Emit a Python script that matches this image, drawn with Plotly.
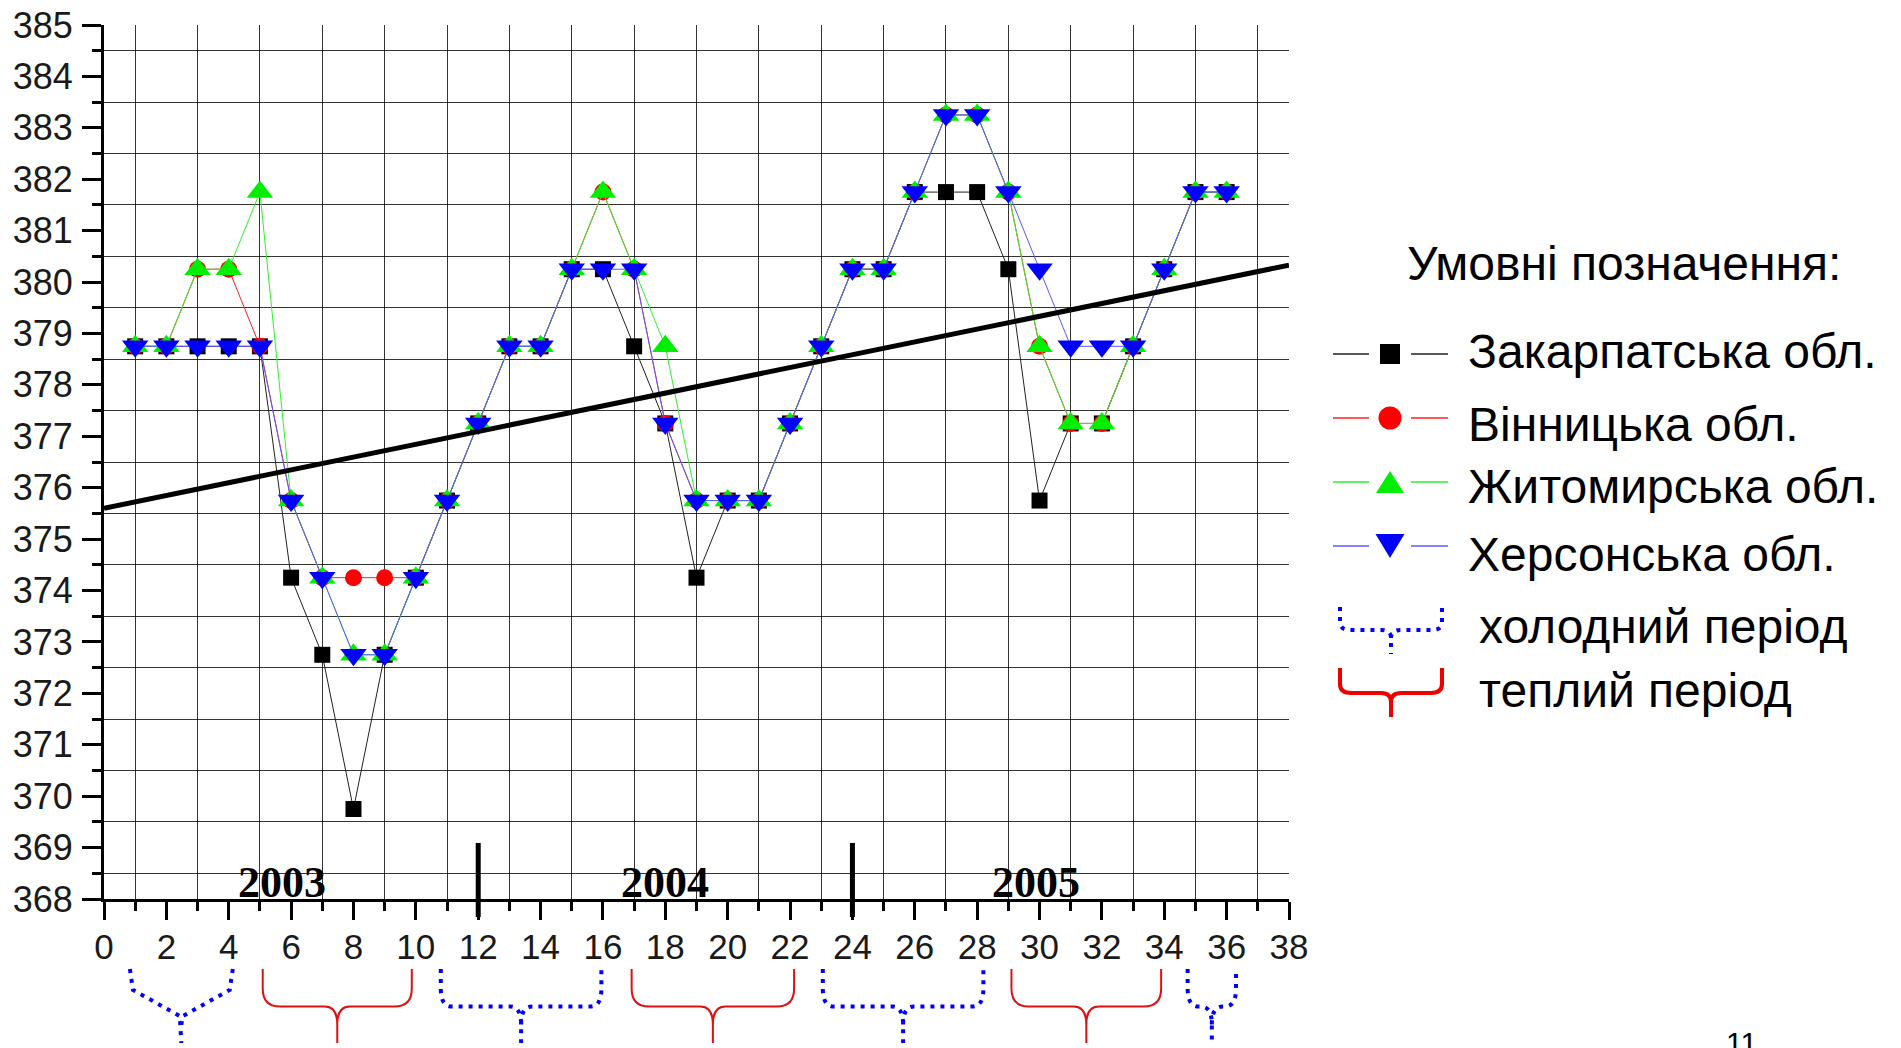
import plotly.graph_objects as go

# ---- data -------------------------------------------------------------
month = list(range(1, 37))

zakarpatska = [378.75, 378.75, 378.75, 378.75, 378.75, 374.25, 372.75, 369.75, 372.75, 374.25,
               375.75, 377.25, 378.75, 378.75, 380.25, 380.25, 378.75, 377.25, 374.25, 375.75,
               375.75, 377.25, 378.75, 380.25, 380.25, 381.75, 381.75, 381.75, 380.25, 375.75,
               377.25, 377.25, 378.75, 380.25, 381.75, 381.75]

vinnytska = [378.75, 378.75, 380.25, 380.25, 378.75, 375.75, 374.25, 374.25, 374.25, 374.25,
             375.75, 377.25, 378.75, 378.75, 380.25, 381.75, 380.25, 377.25, 375.75, 375.75,
             375.75, 377.25, 378.75, 380.25, 380.25, 381.75, 383.25, 383.25, 381.75, 378.75,
             377.25, 377.25, 378.75, 380.25, 381.75, 381.75]

zhytomyrska = [378.75, 378.75, 380.25, 380.25, 381.75, 375.75, 374.25, 372.75, 372.75, 374.25,
               375.75, 377.25, 378.75, 378.75, 380.25, 381.75, 380.25, 378.75, 375.75, 375.75,
               375.75, 377.25, 378.75, 380.25, 380.25, 381.75, 383.25, 383.25, 381.75, 378.75,
               377.25, 377.25, 378.75, 380.25, 381.75, 381.75]

khersonska = [378.75, 378.75, 378.75, 378.75, 378.75, 375.75, 374.25, 372.75, 372.75, 374.25,
              375.75, 377.25, 378.75, 378.75, 380.25, 380.25, 380.25, 377.25, 375.75, 375.75,
              375.75, 377.25, 378.75, 380.25, 380.25, 381.75, 383.25, 383.25, 381.75, 380.25,
              378.75, 378.75, 378.75, 380.25, 381.75, 381.75]

trend_x = [0, 38]
trend_y = [375.6, 380.33]

series_names = ["Закарпатська обл.", "Вінницька обл.", "Житомирська обл.", "Херсонська обл."]

years = ["2003", "2004", "2005"]
year_label_x = [5.7, 18.0, 29.9]
year_breaks = [12, 24]

# seasonal periods along the month axis (start, end)
cold_periods = [(0.83, 4.13), (10.8, 15.95), (23.05, 28.2), (34.75, 36.3)]
warm_periods = [(5.09, 9.87), (16.92, 22.13), (29.1, 33.9)]

legend_title = "Умовні позначення:"
cold_label = "холодний період"
warm_label = "теплий період"
page_number = "11"

# ---- page geometry ------------------------------------------------------
W, H = 1901, 1048
ML, MR, MT, MB = 104, 612, 25, 149
PW = W - ML - MR
PH = H - MT - MB
X_RANGE = [0, 38]
Y_RANGE = [368, 385]


def fx(px):
    """page pixel column -> paper x"""
    return (px - ML) / PW


def fy(py):
    """page pixel row -> paper y"""
    return (H - MB - py) / PH


def ydata_to_paper(v):
    return (v - Y_RANGE[0]) / (Y_RANGE[1] - Y_RANGE[0])


def f(v):
    return f"{v:.5f}"


def brace_path(x0, x1, y_top, y_mid, y_tip, cx, cy, cxc, cyc):
    """curly brace opening upward with a pointed tip downward (paper y grows up)."""
    xc = (x0 + x1) / 2
    return (
        f"M{f(x0)},{f(y_top)} L{f(x0)},{f(y_mid + cy)} Q{f(x0)},{f(y_mid)} {f(x0 + cx)},{f(y_mid)} "
        f"L{f(xc - cxc)},{f(y_mid)} Q{f(xc)},{f(y_mid)} {f(xc)},{f(y_mid - cyc)} L{f(xc)},{f(y_tip)} "
        f"M{f(xc)},{f(y_mid - cyc)} Q{f(xc)},{f(y_mid)} {f(xc + cxc)},{f(y_mid)} "
        f"L{f(x1 - cx)},{f(y_mid)} Q{f(x1)},{f(y_mid)} {f(x1)},{f(y_mid + cy)} L{f(x1)},{f(y_top)}"
    )


def v_brace_path(x0, x1, y_top, y_knee, y_mid, y_tip):
    xc = (x0 + x1) / 2
    return (
        f"M{f(x0)},{f(y_top)} L{f(x0 + 0.1)},{f(y_knee)} L{f(xc - 0.05)},{f(y_mid)} L{f(xc)},{f(y_tip)} "
        f"M{f(x1)},{f(y_top)} L{f(x1 - 0.1)},{f(y_knee)} L{f(xc + 0.05)},{f(y_mid)} L{f(xc)},{f(y_mid - 0.01)}"
    )


BLACK, RED, GREEN, BLUE = "#000000", "#ff0000", "#00ee00", "#0000ff"
LINE_COLS = ["#222222", "#ff2020", "#30ee30", "#5a5aff"]
FONT = "Liberation Sans, Arial, sans-serif"

fig = go.Figure()

styles = [
    (zakarpatska, BLACK, "square", 16),
    (vinnytska, RED, "circle", 17),
    (zhytomyrska, GREEN, "triangle-up", 23),
    (khersonska, BLUE, "triangle-down", 23),
]
for (vals, col, sym, size), name, lcol in zip(styles, series_names, LINE_COLS):
    fig.add_trace(go.Scatter(
        x=month, y=vals, name=name, mode="lines+markers",
        line=dict(color=lcol, width=1),
        marker=dict(symbol=sym, size=size, color=col, line=dict(width=0)),
        cliponaxis=False,
    ))

fig.add_trace(go.Scatter(
    x=trend_x, y=trend_y, mode="lines", name="trend",
    line=dict(color="black", width=5),
))

shapes = []
annotations = []

# year separators
for xb in year_breaks:
    shapes.append(dict(type="line", xref="x", yref="paper",
                       x0=xb, x1=xb, y0=ydata_to_paper(367.65), y1=ydata_to_paper(369.09),
                       line=dict(color="black", width=5)))

# year labels
for yr, xl in zip(years, year_label_x):
    annotations.append(dict(text=f"<b>{yr}</b>", x=xl, y=368.32, xref="x", yref="y",
                            showarrow=False, xanchor="center", yanchor="middle",
                            font=dict(family="Liberation Serif, Times New Roman, serif",
                                      size=44, color="black")))

# season braces under the month axis
br_top, br_mid, br_tip = fy(969), fy(1006.5), fy(1043)
curl_y = 18 / PH
for i, (a, b) in enumerate(cold_periods):
    if i == 0:
        path = v_brace_path(a, b, br_top, fy(990), fy(1016), br_tip)
    else:
        path = brace_path(a, b, br_top, br_mid, br_tip, 0.35, curl_y, 0.35, curl_y)
    shapes.append(dict(type="path", xref="x", yref="paper", path=path,
                       line=dict(color=BLUE, width=4, dash="4px,6px")))
for a, b in warm_periods:
    path = brace_path(a, b, br_top, br_mid, br_tip, 0.55, curl_y, 0.4, curl_y)
    shapes.append(dict(type="path", xref="x", yref="paper", path=path,
                       line=dict(color="#dd1111", width=2)))

# ---- legend ---------------------------------------------------------------
LEG_FONT = 48
annotations.append(dict(text=legend_title, x=fx(1405), y=fy(263), xref="paper", yref="paper",
                        showarrow=False, xanchor="left", yanchor="middle",
                        font=dict(family=FONT, size=LEG_FONT, color="black")))

key_rows = [354, 418, 482, 546]
text_rows = [352, 424, 487, 554]
key_cx = 1390
for row, trow, (vals, col, sym, size), name, lcol in zip(key_rows, text_rows, styles,
                                                          series_names, LINE_COLS):
    for (a, b) in [(1333, 1369), (1411, 1448)]:
        shapes.append(dict(type="line", xref="paper", yref="paper",
                           x0=fx(a), x1=fx(b), y0=fy(row), y1=fy(row),
                           line=dict(color=lcol, width=1.5)))
    if sym == "square":
        shapes.append(dict(type="rect", xref="paper", yref="paper",
                           x0=fx(key_cx - 10), x1=fx(key_cx + 10), y0=fy(row + 10), y1=fy(row - 10),
                           fillcolor=col, line=dict(width=0)))
    elif sym == "circle":
        shapes.append(dict(type="circle", xref="paper", yref="paper",
                           x0=fx(key_cx - 11.5), x1=fx(key_cx + 11.5), y0=fy(row + 11.5), y1=fy(row - 11.5),
                           fillcolor=col, line=dict(width=0)))
    elif sym == "triangle-up":
        p = (f"M{f(fx(key_cx - 14))},{f(fy(row + 11))} L{f(fx(key_cx + 14))},{f(fy(row + 11))} "
             f"L{f(fx(key_cx))},{f(fy(row - 11))} Z")
        shapes.append(dict(type="path", xref="paper", yref="paper", path=p,
                           fillcolor=col, line=dict(width=0)))
    else:
        p = (f"M{f(fx(key_cx - 14.5))},{f(fy(row - 12))} L{f(fx(key_cx + 14.5))},{f(fy(row - 12))} "
             f"L{f(fx(key_cx))},{f(fy(row + 12))} Z")
        shapes.append(dict(type="path", xref="paper", yref="paper", path=p,
                           fillcolor=col, line=dict(width=0)))
    annotations.append(dict(text=name, x=fx(1466), y=fy(trow), xref="paper", yref="paper",
                            showarrow=False, xanchor="left", yanchor="middle",
                            font=dict(family=FONT, size=LEG_FONT, color="black")))

# legend braces
shapes.append(dict(type="path", xref="paper", yref="paper",
                   path=brace_path(fx(1340), fx(1442), fy(607), fy(630), fy(654),
                                   10 / PW, 8 / PH, 10 / PW, 8 / PH),
                   line=dict(color=BLUE, width=4, dash="4px,6px")))
shapes.append(dict(type="path", xref="paper", yref="paper",
                   path=brace_path(fx(1340), fx(1442), fy(668), fy(693), fy(717),
                                   11 / PW, 9 / PH, 10 / PW, 9 / PH),
                   line=dict(color="#ee0000", width=4)))
annotations.append(dict(text=cold_label, x=fx(1477), y=fy(626), xref="paper", yref="paper",
                        showarrow=False, xanchor="left", yanchor="middle",
                        font=dict(family=FONT, size=LEG_FONT, color="black")))
annotations.append(dict(text=warm_label, x=fx(1477), y=fy(690), xref="paper", yref="paper",
                        showarrow=False, xanchor="left", yanchor="middle",
                        font=dict(family=FONT, size=LEG_FONT, color="black")))

# page number
annotations.append(dict(text=page_number, x=fx(1741), y=fy(1024), xref="paper", yref="paper",
                        showarrow=False, xanchor="center", yanchor="top",
                        font=dict(family=FONT, size=30, color="black")))

grid_col = "rgba(0,0,0,0.8)"

fig.update_layout(
    width=W, height=H,
    margin=dict(l=ML, r=MR, t=MT, b=MB, pad=0, autoexpand=False),
    paper_bgcolor="white", plot_bgcolor="white",
    showlegend=False,
    shapes=shapes,
    annotations=annotations,
    xaxis=dict(
        range=X_RANGE, tick0=0, dtick=2, showgrid=False, zeroline=False, automargin=False,
        showline=True, linecolor="black", linewidth=3,
        ticks="outside", ticklen=18, tickwidth=3, tickcolor="black",
        tickfont=dict(family=FONT, size=35, color="#1a1a1a"), ticklabelstandoff=-3,
        minor=dict(tick0=0, dtick=1, ticks="outside", ticklen=9, tickwidth=2.5, tickcolor="black",
                   showgrid=True, gridcolor=grid_col, gridwidth=1.4),
    ),
    yaxis=dict(
        range=Y_RANGE, tick0=368, dtick=1, showgrid=False, zeroline=False, automargin=False,
        showline=True, linecolor="black", linewidth=3,
        ticks="outside", ticklen=19, tickwidth=3, tickcolor="black",
        tickfont=dict(family=FONT, size=36, color="#1a1a1a"), ticklabelstandoff=2,
        minor=dict(tick0=368, dtick=0.5, ticks="outside", ticklen=9, tickwidth=2.5, tickcolor="black",
                   showgrid=True, gridcolor=grid_col, gridwidth=1.4),
    ),
)

fig.write_html("out.html")
